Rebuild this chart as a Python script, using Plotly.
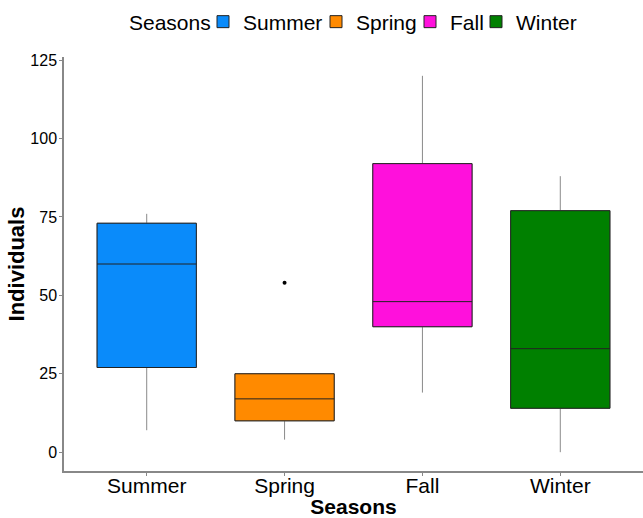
import plotly.graph_objects as go

seasons = ["Summer", "Spring", "Fall", "Winter"]
colors = ["#0A8BFA", "#FF8A00", "#FF10DC", "#008000"]
lower_fence = [7, 4, 19, 0]
q1 = [27, 10, 40, 14]
median = [60, 17, 48, 33]
q3 = [73, 25, 92, 77]
upper_fence = [76, 25, 120, 88]
outlier_season = ["Spring"]
outlier_value = [54]

L, R, T, B = 64, 0, 57, 47
W, H = 643, 518
pw, ph = W - L - R, H - T - B

# horizontal pixel where the legend title and each entry's text begin
legend_title_left = 130
legend_text_left = [244, 357, 451, 517]
legend_mid_y = 22

fig = go.Figure()
legends = {}
for i, s in enumerate(seasons):
    lg = "legend" if i == 0 else f"legend{i + 1}"
    # whiskers in gray
    fig.add_trace(go.Box(
        name=s, x=[s],
        q1=[q1[i]], median=[median[i]], q3=[q3[i]],
        lowerfence=[lower_fence[i]], upperfence=[upper_fence[i]],
        fillcolor=colors[i], line=dict(color="#8a8a8a", width=1),
        whiskerwidth=0, width=0.72, boxpoints=False,
        showlegend=False, hoverinfo="skip",
    ))
    # box body with a dark outline and median
    fig.add_trace(go.Box(
        name=s, x=[s],
        q1=[q1[i]], median=[median[i]], q3=[q3[i]],
        lowerfence=[q1[i]], upperfence=[q3[i]],
        fillcolor=colors[i], line=dict(color="#222222", width=1),
        whiskerwidth=0, width=0.72, boxpoints=False,
        legend=lg, hoverinfo="skip",
    ))
    legends[lg] = dict(
        orientation="h", xref="paper", yref="paper",
        x=(legend_text_left[i] - 41 - L) / pw, xanchor="left",
        y=(H - B - legend_mid_y) / ph, yanchor="middle",
        font=dict(size=21), bgcolor="rgba(0,0,0,0)",
    )

fig.add_trace(go.Scatter(
    x=outlier_season, y=outlier_value, mode="markers",
    marker=dict(color="black", size=4), showlegend=False, hoverinfo="skip",
))

fig.add_annotation(
    text="Seasons", xref="paper", yref="paper",
    x=(legend_title_left - 3 - L) / pw, xanchor="left",
    y=(H - B - legend_mid_y) / ph, yanchor="middle",
    showarrow=False, font=dict(size=21, color="black"),
)

fig.update_layout(
    width=W, height=H,
    margin=dict(l=L, r=R, t=T, b=B),
    paper_bgcolor="white", plot_bgcolor="white",
    font=dict(family="Liberation Sans, Arial, sans-serif", color="black"),
    showlegend=True,
    xaxis=dict(
        type="category", categoryorder="array", categoryarray=seasons,
        range=[-0.6, 3.6], showgrid=False, zeroline=False,
        showline=True, linecolor="#888888", linewidth=1.5,
        ticks="outside", ticklen=3, tickcolor="#888888",
        tickfont=dict(size=21, color="black"), ticklabelstandoff=-8,
        title=dict(text="<b>Seasons</b>", font=dict(size=21), standoff=0),
    ),
    yaxis=dict(
        range=[-6, 126], tickvals=[0, 25, 50, 75, 100, 125],
        showgrid=False, zeroline=False,
        showline=True, linecolor="#888888", linewidth=1.5,
        ticks="outside", ticklen=3, tickcolor="#888888",
        tickfont=dict(size=16, color="black"), ticklabelstandoff=-1,
        title=dict(text="<b>Individuals</b>", font=dict(size=22), standoff=0),
    ),
    **legends,
)

fig.write_html("out.html")
